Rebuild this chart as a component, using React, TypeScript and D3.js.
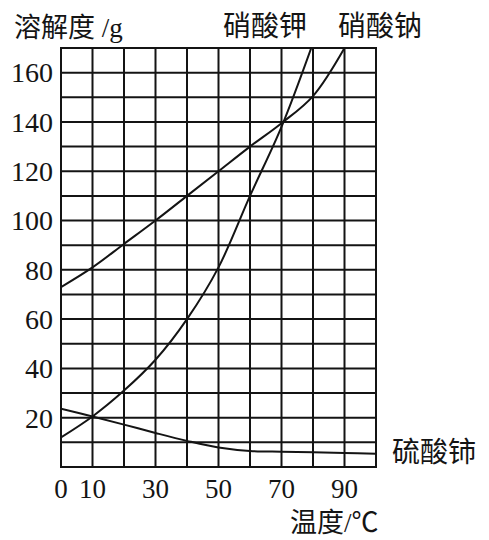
import * as d3 from "d3";

// temperature (°C) and solubility (g)
const temps = [0, 10, 20, 30, 40, 50, 60, 70, 80, 90, 100];
const kno3 = [12, 20.5, 31, 43.5, 60, 81, 110, 138, 172];
const nano3 = [73, 81, 90.5, 100, 110, 120, 130, 139.5, 150.5, 170];
const ce2so4 = [23.6, 20.5, 17.2, 13.8, 10.6, 7.9, 6.5, 6.2, 6, 5.7, 5.4];

const xTicks = [0, 10, 30, 50, 70, 90];
const yTicks = [20, 40, 60, 80, 100, 120, 140, 160];

const serif = "'Liberation Serif', 'DejaVu Serif', serif";
const cjk = "'Noto Sans CJK SC', sans-serif";

export default function App() {
  const width = 489;
  const height = 540;

  const x = d3.scaleLinear().domain([0, 100]).range([61, 376]);
  const y = d3.scaleLinear().domain([0, 170]).range([467, 48]);

  const line = d3
    .line<number>()
    .x((_, i) => x(temps[i]))
    .y((d) => y(d))
    .curve(d3.curveCatmullRom.alpha(0.5));

  const ink = "#141414";

  return (
    <svg
      width={width}
      height={height}
      style={{ position: "absolute", left: 0, top: 0, background: "#fff" }}
    >
      <defs>
        <clipPath id="plot">
          <rect x={x(0)} y={y(170)} width={x(100) - x(0)} height={y(0) - y(170)} />
        </clipPath>
      </defs>

      {/* grid */}
      <g stroke={ink} strokeWidth={2}>
        {d3.range(0, 101, 10).map((t) => (
          <line key={"v" + t} x1={x(t)} x2={x(t)} y1={y(0)} y2={y(170)} />
        ))}
        {d3.range(0, 171, 10).map((v) => (
          <line key={"h" + v} x1={x(0) - 1} x2={x(100) + 1} y1={y(v)} y2={y(v)} />
        ))}
      </g>

      {/* curves */}
      <g clipPath="url(#plot)" fill="none" stroke={ink} strokeWidth={2}>
        <path d={line(kno3) ?? ""} />
        <path d={line(nano3) ?? ""} />
        <path d={line(ce2so4) ?? ""} />
      </g>

      {/* y tick labels */}
      <g fontFamily={serif} fontSize={28} fill={ink} textAnchor="end">
        {yTicks.map((v) => (
          <text key={v} x={53} y={y(v)} dy="0.35em">
            {v}
          </text>
        ))}
      </g>

      {/* x tick labels */}
      <g fontFamily={serif} fontSize={27} fill={ink} textAnchor="middle">
        {xTicks.map((t) => (
          <text key={t} x={x(t)} y={498}>
            {t}
          </text>
        ))}
      </g>

      {/* titles and series labels */}
      <text x={14} y={37} fontSize={27} fill={ink}>
        <tspan fontFamily={cjk}>溶解度</tspan>
        <tspan fontFamily={serif}> /g</tspan>
      </text>
      <text x={223} y={36} fontSize={28} fontFamily={cjk} fill={ink}>
        硝酸钾
      </text>
      <text x={338} y={36} fontSize={28} fontFamily={cjk} fill={ink}>
        硝酸钠
      </text>
      <text x={392} y={462} fontSize={28} fontFamily={cjk} fill={ink}>
        硫酸铈
      </text>
      <text x={290} y={532} fontSize={27} fill={ink}>
        <tspan fontFamily={cjk}>温度</tspan>
        <tspan fontFamily={serif}>/</tspan>
        <tspan fontFamily={cjk}>℃</tspan>
      </text>
    </svg>
  );
}
